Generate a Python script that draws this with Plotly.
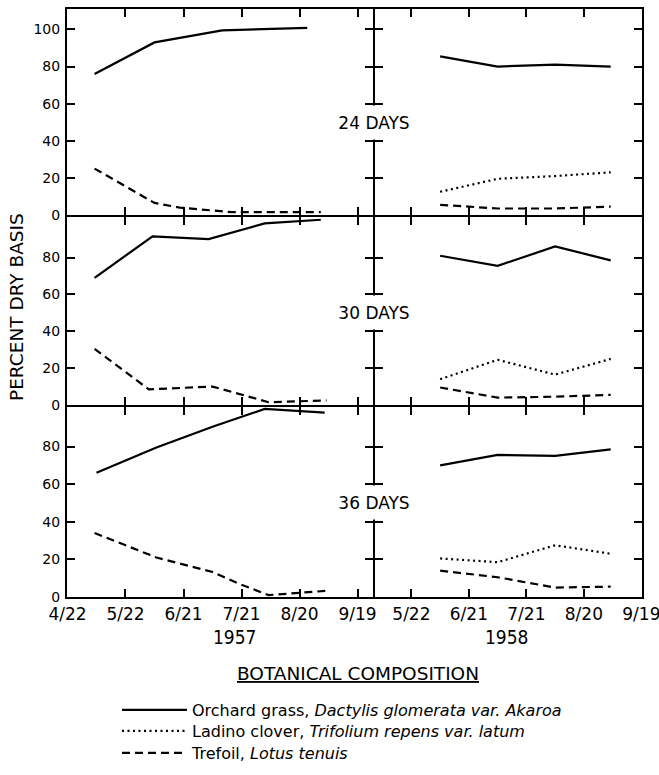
import plotly.graph_objects as go

# ---------------- data ----------------
# 1957, 24-day interval
orch_57_24_dates = ["1957-05-06", "1957-06-06", "1957-07-11", "1957-08-24"]
orch_57_24 = [76, 93, 99.5, 100.8]
tref_57_24_dates = ["1957-05-06", "1957-06-06", "1957-06-19", "1957-07-16", "1957-08-31"]
tref_57_24 = [25, 6.5, 4, 1.5, 1.5]

# 1957, 30-day interval
orch_57_30_dates = ["1957-05-06", "1957-06-05", "1957-07-04", "1957-08-02", "1957-08-31"]
orch_57_30 = [69, 91.5, 90, 98.5, 100.5]
tref_57_30_dates = ["1957-05-06", "1957-06-03", "1957-07-06", "1957-08-04", "1957-09-03"]
tref_57_30 = [30.5, 8.5, 10, 1.5, 2.5]

# 1957, 36-day interval
orch_57_36_dates = ["1957-05-07", "1957-06-07", "1957-07-06", "1957-08-02", "1957-09-02"]
orch_57_36 = [66, 79.5, 90.5, 100, 98]
tref_57_36_dates = ["1957-05-06", "1957-06-07", "1957-07-06", "1957-07-19", "1957-08-04", "1957-09-03"]
tref_57_36 = [34, 21, 13.3, 7.3, 1, 3.3]

# 1958 (all intervals)
dates_58 = ["1958-06-06", "1958-07-06", "1958-08-05", "1958-09-03"]
orch_58_24 = [85.5, 80, 81, 80]
ladino_58_24 = [12.5, 19.5, 21, 23]
tref_58_24 = [5.5, 3.5, 3.5, 4.5]
orch_58_30 = [81, 75.5, 86, 78.5]
ladino_58_30 = [14, 24.5, 16.5, 25]
tref_58_30 = [9.5, 4, 4.5, 5.5]
orch_58_36 = [70, 75.5, 75, 78.5]
ladino_58_36 = [20.5, 18.5, 27.5, 23]
tref_58_36 = [14, 10.5, 5, 5.5]

row_labels = ["24 DAYS", "30 DAYS", "36 DAYS"]
tick_vals_57 = ["1957-04-22", "1957-05-22", "1957-06-21", "1957-07-21", "1957-08-20", "1957-09-19"]
tick_text_57 = ["4/22", "5/22", "6/21", "7/21", "8/20", "9/19"]
tick_vals_58 = ["1958-05-22", "1958-06-21", "1958-07-21", "1958-08-20", "1958-09-19"]
tick_text_58 = ["5/22", "6/21", "7/21", "8/20", "9/19"]

legend_names = [
    "Orchard grass, <i>Dactylis glomerata var. Akaroa</i>",
    "Ladino clover, <i>Trifolium repens var. latum</i>",
    "Trefoil, <i>Lotus tenuis</i>",
]

# ---------------- styling ----------------
FONT = "DejaVu Sans, Liberation Sans, sans-serif"
FONT_C = "DejaVu Sans Condensed, DejaVu Sans, sans-serif"
W, H = 659, 775
LWAX = 2
COLS = [(67, 373), (375, 642)]
ROW_PIX = [(9, 215), (217, 405), (407, 597)]
Y_RANGES = [[0, 111], [0, 102], [0, 101]]
Y_TICKS = [[0, 20, 40, 60, 80, 100], [0, 20, 40, 60, 80], [0, 20, 40, 60, 80]]
LW = 2.2
dash_tref = "8px,5px"
dash_lad = "2px,3.5px"
LEG_Y = [710, 731, 753]

fig = go.Figure()

def ax(n):
    return "" if n == 1 else str(n)

rows = [
    (orch_57_24_dates, orch_57_24, tref_57_24_dates, tref_57_24, orch_58_24, ladino_58_24, tref_58_24),
    (orch_57_30_dates, orch_57_30, tref_57_30_dates, tref_57_30, orch_58_30, ladino_58_30, tref_58_30),
    (orch_57_36_dates, orch_57_36, tref_57_36_dates, tref_57_36, orch_58_36, ladino_58_36, tref_58_36),
]

for r, (od, ov, td, tv, o58, l58, t58) in enumerate(rows):
    nl = 2 * r + 1
    nr = 2 * r + 2
    first = r == 0
    fig.add_trace(go.Scatter(x=od, y=ov, mode="lines", xaxis="x" + ax(nl), yaxis="y" + ax(nl),
                             line=dict(color="black", width=LW), name=legend_names[0],
                             legend="legend", showlegend=first))
    fig.add_trace(go.Scatter(x=td, y=tv, mode="lines", xaxis="x" + ax(nl), yaxis="y" + ax(nl),
                             line=dict(color="black", width=LW, dash=dash_tref), name=legend_names[2],
                             legend="legend3", showlegend=first))
    fig.add_trace(go.Scatter(x=dates_58, y=o58, mode="lines", xaxis="x" + ax(nr), yaxis="y" + ax(nr),
                             line=dict(color="black", width=LW), name=legend_names[0],
                             showlegend=False))
    fig.add_trace(go.Scatter(x=dates_58, y=l58, mode="lines", xaxis="x" + ax(nr), yaxis="y" + ax(nr),
                             line=dict(color="black", width=LW, dash=dash_lad), name=legend_names[1],
                             legend="legend2", showlegend=first))
    fig.add_trace(go.Scatter(x=dates_58, y=t58, mode="lines", xaxis="x" + ax(nr), yaxis="y" + ax(nr),
                             line=dict(color="black", width=LW, dash=dash_tref), name=legend_names[2],
                             showlegend=False))

def leg(ypix):
    return dict(x=117 / W, y=1 - ypix / H, xanchor="left", yanchor="middle",
                font=dict(size=16, family=FONT), itemwidth=65, bgcolor="rgba(0,0,0,0)")

layout = dict(
    width=W, height=H,
    margin=dict(l=0, r=0, t=0, b=0),
    paper_bgcolor="white", plot_bgcolor="white",
    font=dict(family=FONT, color="black", size=14),
    legend=leg(LEG_Y[0]), legend2=leg(LEG_Y[1]), legend3=leg(LEG_Y[2]),
)

common_x = dict(showgrid=False, zeroline=False, showline=True, linecolor="black", linewidth=LWAX,
                ticks="inside", ticklen=8, tickwidth=1.5, tickcolor="black", mirror="ticks",
                type="date", tickfont=dict(size=17), ticklabelstandoff=1, automargin=False,
                ticklabeloverflow="allow")
common_y = dict(showgrid=False, zeroline=False, showline=True, linecolor="black", linewidth=LWAX,
                ticks="inside", ticklen=8, tickwidth=1.5, tickcolor="black", mirror="ticks",
                automargin=False)

for r in range(3):
    y0p, y1p = ROW_PIX[r]
    dom_y = [1 - y1p / H, 1 - y0p / H]
    nl, nr = 2 * r + 1, 2 * r + 2
    bottom = r == 2
    layout["xaxis" + ax(nl)] = dict(common_x, domain=[COLS[0][0] / W, COLS[0][1] / W], anchor="y" + ax(nl),
                                   range=["1957-04-21 18:00", "1957-09-27"],
                                   tickvals=tick_vals_57, ticktext=tick_text_57,
                                   showticklabels=bottom)
    layout["xaxis" + ax(nr)] = dict(common_x, domain=[COLS[1][0] / W, COLS[1][1] / W], anchor="y" + ax(nr),
                                   range=["1958-05-03", "1958-09-19 08:00"],
                                   tickvals=tick_vals_58, ticktext=tick_text_58,
                                   showticklabels=bottom)
    layout["yaxis" + ax(nl)] = dict(common_y, domain=dom_y, anchor="x" + ax(nl), range=Y_RANGES[r],
                                   tickvals=Y_TICKS[r], tickfont=dict(size=14), ticklabelstandoff=2)
    layout["yaxis" + ax(nr)] = dict(common_y, domain=dom_y, anchor="x" + ax(nr), range=Y_RANGES[r],
                                   tickvals=Y_TICKS[r], showticklabels=False)

annotations = []
for r in range(3):
    nl = 2 * r + 1
    annotations.append(dict(text=row_labels[r], xref="paper", x=374 / W, yref="y" + ax(nl), y=50,
                            showarrow=False, font=dict(size=17), bgcolor="white",
                            width=92, height=31, xanchor="center", yanchor="middle"))
annotations += [
    dict(text="1957", xref="paper", yref="paper", x=235 / W, y=1 - 637 / H, showarrow=False,
         font=dict(size=19, family=FONT_C), xanchor="center", yanchor="middle"),
    dict(text="1958", xref="paper", yref="paper", x=507 / W, y=1 - 637 / H, showarrow=False,
         font=dict(size=19, family=FONT_C), xanchor="center", yanchor="middle"),
    dict(text="<u>BOTANICAL COMPOSITION</u>", xref="paper", yref="paper", x=358 / W, y=1 - 673 / H,
         showarrow=False, font=dict(size=18.5), xanchor="center", yanchor="middle"),
    dict(text="PERCENT DRY BASIS", xref="paper", yref="paper", x=16 / W, y=1 - 307 / H,
         showarrow=False, font=dict(size=18.5), textangle=-90, xanchor="center", yanchor="middle"),
]
layout["annotations"] = annotations

fig.update_layout(**layout)
fig.write_html("out.html", config={"displayModeBar": False},
               post_script="document.body.style.margin='0px';")
